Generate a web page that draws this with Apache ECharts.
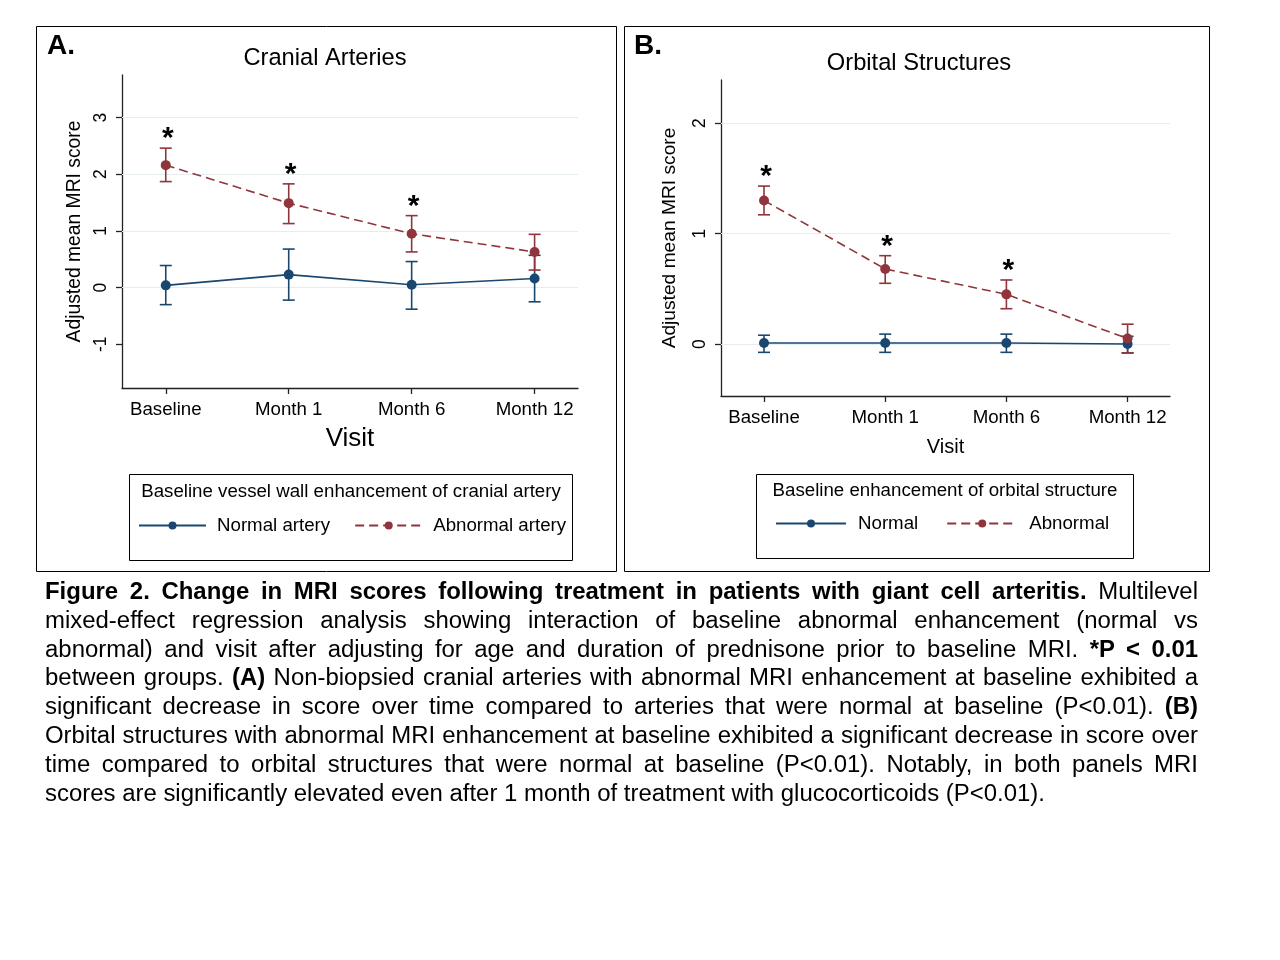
<!DOCTYPE html>
<html><head><meta charset="utf-8">
<script src="https://cdn.jsdelivr.net/npm/echarts@6/dist/echarts.min.js"></script>
<style>
html,body{margin:0;padding:0;background:#fff;}
#chart{position:absolute;left:0;top:0;width:1280px;height:960px;}
#cap{position:absolute;left:45px;top:577px;width:1153px;font-family:"Liberation Sans",Arial,sans-serif;font-size:23.95px;line-height:28.8px;color:#000;}
#cap div{text-align:justify;text-align-last:justify;white-space:nowrap;}
#cap div.last{text-align:left;text-align-last:left;}
</style>
</head><body>
<div id="chart"></div>
<div id="cap">
<div><b>Figure 2. Change in MRI scores following treatment in patients with giant cell arteritis.</b> Multilevel</div>
<div>mixed-effect regression analysis showing interaction of baseline abnormal enhancement (normal vs</div>
<div>abnormal) and visit after adjusting for age and duration of prednisone prior to baseline MRI. <b>*P &lt; 0.01</b></div>
<div>between groups. <b>(A)</b> Non-biopsied cranial arteries with abnormal MRI enhancement at baseline exhibited a</div>
<div>significant decrease in score over time compared to arteries that were normal at baseline (P&lt;0.01). <b>(B)</b></div>
<div>Orbital structures with abnormal MRI enhancement at baseline exhibited a significant decrease in score over</div>
<div>time compared to orbital structures that were normal at baseline (P&lt;0.01). Notably, in both panels MRI</div>
<div class="last">scores are significantly elevated even after 1 month of treatment with glucocorticoids (P&lt;0.01).</div>
</div>
<script>
// ---- data ----
const categories = ['Baseline', 'Month 1', 'Month 6', 'Month 12'];
const xTicks = [0, 1, 2, 3];

// Panel A: Cranial arteries
const yTicksA = [-1, 0, 1, 2, 3];
const gridValuesA = [0, 1, 2, 3];
const normalArteryMean = [0.04, 0.23, 0.05, 0.16];
const normalArteryLow  = [-0.30, -0.22, -0.38, -0.25];
const normalArteryHigh = [0.39, 0.68, 0.46, 0.57];
const abnormalArteryMean = [2.16, 1.49, 0.95, 0.63];
const abnormalArteryLow  = [1.87, 1.13, 0.63, 0.31];
const abnormalArteryHigh = [2.46, 1.83, 1.27, 0.94];
const significantA = [0, 1, 2];

// Panel B: Orbital structures
const yTicksB = [0, 1, 2];
const gridValuesB = [0, 1, 2];
const normalOrbitMean = [0.01, 0.01, 0.01, 0.00];
const normalOrbitLow  = [-0.075, -0.075, -0.075, -0.08];
const normalOrbitHigh = [0.08, 0.09, 0.09, 0.07];
const abnormalOrbitMean = [1.30, 0.68, 0.45, 0.05];
const abnormalOrbitLow  = [1.17, 0.55, 0.32, -0.08];
const abnormalOrbitHigh = [1.43, 0.80, 0.58, 0.18];
const significantB = [0, 1, 2];

// ---- style ----
const FONT = '"Liberation Sans", Arial, sans-serif';
const BLUE = '#1a476f';
const RED = '#90353b';
const AXIS = '#222';
const GRIDC = '#e6edef';

function xAxisDef(gridIndex, name, nameSize, nameGap, min, max) {
  return {
    type: 'value', gridIndex, min, max, name, nameLocation: 'middle', nameGap,
    nameTextStyle: {fontFamily: FONT, fontSize: nameSize, color: '#000'},
    axisLine: {show: true, onZero: false, lineStyle: {color: AXIS, width: 1.3}},
    axisTick: {show: true, customValues: xTicks, length: 6, lineStyle: {color: AXIS, width: 1.3}},
    axisLabel: {customValues: xTicks, formatter: v => categories[Math.round(v)], fontFamily: FONT, fontSize: 18.7, color: '#000', margin: 12},
    splitLine: {show: false}
  };
}
function yAxisDef(gridIndex, ticks, min, max, nameSize, nameGap) {
  return {
    type: 'value', gridIndex, min, max, name: 'Adjusted mean MRI score', nameLocation: 'middle', nameGap,
    nameTextStyle: {fontFamily: FONT, fontSize: nameSize, color: '#000'},
    axisLine: {show: true, onZero: false, lineStyle: {color: AXIS, width: 1.3}},
    axisTick: {show: true, customValues: ticks, length: 6, lineStyle: {color: AXIS, width: 1.3}},
    axisLabel: {customValues: ticks, rotate: 90, fontFamily: FONT, fontSize: 17.5, color: '#000', margin: 12},
    splitLine: {show: false}
  };
}
function errSeries(idx, low, high, color, gridVals) {
  const s = {
    type: 'custom', xAxisIndex: idx, yAxisIndex: idx, silent: true, z: 3,
    data: low.map((l, i) => [i, l, high[i]]),
    encode: {x: 0, y: [1, 2]},
    renderItem(params, api) {
      const x = api.value(0);
      const lo = api.coord([x, api.value(1)]);
      const hi = api.coord([x, api.value(2)]);
      const w = 6;
      const style = {stroke: color, lineWidth: 1.6, fill: null};
      return {type: 'group', children: [
        {type: 'line', shape: {x1: lo[0], y1: lo[1], x2: hi[0], y2: hi[1]}, style},
        {type: 'line', shape: {x1: lo[0] - w, y1: lo[1], x2: lo[0] + w, y2: lo[1]}, style},
        {type: 'line', shape: {x1: hi[0] - w, y1: hi[1], x2: hi[0] + w, y2: hi[1]}, style}
      ]};
    }
  };
  if (gridVals) {
    s.markLine = {silent: true, symbol: ['none', 'none'], label: {show: false}, z: 1,
      lineStyle: {color: GRIDC, type: 'solid', width: 1.2},
      data: gridVals.map(v => ({yAxis: v}))};
  }
  return s;
}
function lineSeries(idx, name, mean, color, dashed) {
  return {
    type: 'line', name, xAxisIndex: idx, yAxisIndex: idx, z: 5,
    data: mean.map((m, i) => [i, m]),
    symbol: 'circle', symbolSize: 10,
    itemStyle: {color},
    lineStyle: {color, width: 1.6, type: dashed ? [9, 5] : 'solid'},
    emphasis: {disabled: true}, animation: false
  };
}
function starSeries(idx, sig, high) {
  return {
    type: 'custom', xAxisIndex: idx, yAxisIndex: idx, silent: true, z: 6,
    data: sig.map(i => [i, high[i]]),
    encode: {x: 0, y: 1},
    renderItem(params, api) {
      const c = api.coord([api.value(0), api.value(1)]);
      return {type: 'text', x: c[0] + 2, y: c[1] + 6,
        style: {text: '*', font: 'bold 30px ' + FONT, textAlign: 'center', textVerticalAlign: 'bottom', fill: '#000'}};
    }
  };
}
function gtext(x, y, text, size, bold, align) {
  return {type: 'text', x, y, silent: true,
    style: {text, font: (bold ? 'bold ' : '') + size + 'px ' + FONT, textAlign: align || 'center', textVerticalAlign: 'middle', fill: '#000'}};
}
function grect(x, y, w, h) {
  return {type: 'rect', silent: true, shape: {x, y, width: w, height: h}, style: {fill: null, stroke: '#000', lineWidth: 1}};
}

const chart = echarts.init(document.getElementById('chart'), null, {renderer: 'canvas'});
chart.setOption({
  backgroundColor: '#fff',
  animation: false,
  grid: [
    {left: 122, top: 75, width: 456, height: 313},
    {left: 721, top: 80, width: 449, height: 316}
  ],
  xAxis: [
    xAxisDef(0, 'Visit', 26, 38, -0.356, 3.353),
    xAxisDef(1, 'Visit', 20, 41, -0.355, 3.35)
  ],
  yAxis: [
    yAxisDef(0, yTicksA, -1.77, 3.75, 19.3, 38),
    yAxisDef(1, yTicksB, -0.47, 2.39, 19.2, 42)
  ],
  legend: [
    {left: 133, top: 511, itemWidth: 67, itemHeight: 10, itemGap: 24, selectedMode: false,
     textStyle: {fontFamily: FONT, fontSize: 18.7, color: '#000', padding: [0, 0, 0, 6]},
     data: ['Normal artery', 'Abnormal artery']},
    {left: 770, top: 509, itemWidth: 70, itemHeight: 10, itemGap: 28, selectedMode: false,
     textStyle: {fontFamily: FONT, fontSize: 18.7, color: '#000', padding: [0, 0, 0, 7]},
     data: ['Normal', 'Abnormal']}
  ],
  graphic: [
    grect(36.5, 26.5, 580, 545),
    grect(624.5, 26.5, 585, 545),
    grect(129.5, 474.5, 443, 86),
    grect(756.5, 474.5, 377, 84),
    gtext(61, 46, 'A.', 28, true),
    gtext(648, 46, 'B.', 28, true),
    gtext(325, 58, 'Cranial Arteries', 23.7),
    gtext(919, 63, 'Orbital Structures', 23.7),
    gtext(351, 492, 'Baseline vessel wall enhancement of cranial artery', 18.7),
    gtext(945, 491, 'Baseline enhancement of orbital structure', 18.7)
  ],
  series: [
    errSeries(0, normalArteryLow, normalArteryHigh, BLUE, gridValuesA),
    errSeries(0, abnormalArteryLow, abnormalArteryHigh, RED),
    lineSeries(0, 'Normal artery', normalArteryMean, BLUE, false),
    lineSeries(0, 'Abnormal artery', abnormalArteryMean, RED, true),
    starSeries(0, significantA, abnormalArteryHigh),
    errSeries(1, normalOrbitLow, normalOrbitHigh, BLUE, gridValuesB),
    errSeries(1, abnormalOrbitLow, abnormalOrbitHigh, RED),
    lineSeries(1, 'Normal', normalOrbitMean, BLUE, false),
    lineSeries(1, 'Abnormal', abnormalOrbitMean, RED, true),
    starSeries(1, significantB, abnormalOrbitHigh)
  ]
});
</script>
</body></html>
